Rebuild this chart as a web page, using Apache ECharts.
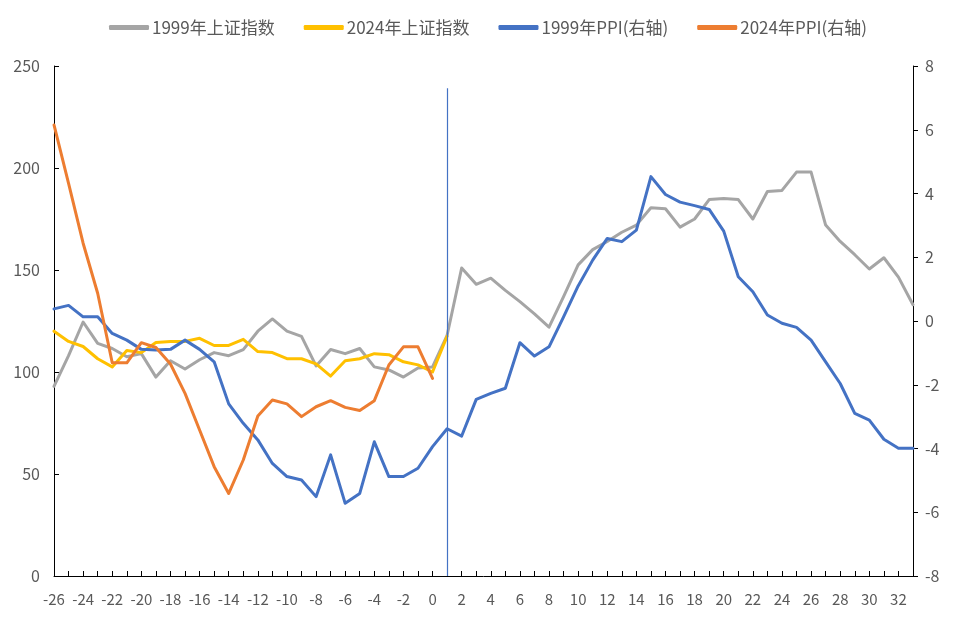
<!DOCTYPE html>
<html>
<head>
<meta charset="utf-8">
<script src="https://cdn.jsdelivr.net/npm/echarts@6/dist/echarts.min.js"></script>
<style>
html,body{margin:0;padding:0;background:#fff;}
#main{width:960px;height:621px;}
</style>
</head>
<body>
<div id="main"></div>
<script>
const categories = ['-26','-25','-24','-23','-22','-21','-20','-19','-18','-17','-16','-15','-14','-13','-12','-11','-10','-9','-8','-7','-6','-5','-4','-3','-2','-1','0','1','2','3','4','5','6','7','8','9','10','11','12','13','14','15','16','17','18','19','20','21','22','23','24','25','26','27','28','29','30','31','32','33'];

const seriesNames = ['1999年上证指数','2024年上证指数','1999年PPI(右轴)','2024年PPI(右轴)'];

const index1999 = [93,108,124.5,114,111.5,107.5,109,97.5,105.5,101.5,106,109.5,108,111,120,126,120,117.5,103,111,109,111.5,102.5,101,97.5,102,102.5,118,151,143,146,140,134.5,128.5,122,137,152.5,160,164,168.5,172,180.5,180,171,175,184.5,185,184.5,175,188.5,189,198,198,172,164,157.5,150.5,156,146.5,133];

const index2024 = [120,115,112.5,106.5,102.5,110.5,109.5,114.5,115,115,116.5,113,113,116,110,109.5,106.5,106.5,104,98,105.5,106.5,109,108.5,105,103.5,100,117.5];

const ppi1999 = [0.38,0.49,0.13,0.13,-0.39,-0.6,-0.89,-0.91,-0.89,-0.6,-0.89,-1.28,-2.6,-3.21,-3.73,-4.47,-4.88,-4.99,-5.51,-4.2,-5.72,-5.41,-3.79,-4.88,-4.88,-4.62,-3.94,-3.38,-3.61,-2.46,-2.27,-2.11,-0.68,-1.1,-0.81,0.13,1.1,1.91,2.59,2.49,2.85,4.53,3.97,3.73,3.62,3.5,2.82,1.39,0.92,0.19,-0.07,-0.2,-0.6,-1.28,-1.96,-2.9,-3.11,-3.71,-3.99,-3.99];

const ppi2024 = [6.15,4.32,2.44,0.87,-1.31,-1.31,-0.68,-0.83,-1.35,-2.27,-3.42,-4.57,-5.41,-4.36,-2.98,-2.48,-2.6,-3.0,-2.69,-2.5,-2.71,-2.81,-2.5,-1.38,-0.81,-0.81,-1.8];

const leftTicks = {min: 0, max: 250, interval: 50};
const rightTicks = {min: -8, max: 8, interval: 2};
const markerCategory = '1';
const markerBottom = -8;
const markerTop = 7.3;

const colors = ['#A5A5A5', '#FFC000', '#4472C4', '#ED7D31'];
const labelColor = '#595959';
const fontFam = '"Noto Sans CJK SC", "Liberation Sans", sans-serif';

const chart = echarts.init(document.getElementById('main'), null, {renderer: 'canvas'});

function lineSeries(i, data, yIdx) {
  return {
    name: seriesNames[i],
    type: 'line',
    data: data,
    yAxisIndex: yIdx,
    symbol: 'none',
    smooth: false,
    lineStyle: {width: 3, color: colors[i], cap: 'round', join: 'round'},
    itemStyle: {color: colors[i]},
    z: 2 + i
  };
}

const s2 = lineSeries(2, ppi1999, 1);
s2.markLine = {
  silent: true,
  symbol: 'none',
  animation: false,
  label: {show: false},
  lineStyle: {color: '#4472C4', width: 1.2, type: 'solid', opacity: 1},
  data: [[{coord: [markerCategory, markerBottom]}, {coord: [markerCategory, markerTop]}]]
};

const option = {
  animation: false,
  backgroundColor: '#ffffff',
  color: colors,
  textStyle: {fontFamily: fontFam},
  legend: {
    top: 14,
    left: 104,
    itemGap: 29,
    itemWidth: 40,
    itemHeight: 5,
    icon: 'roundRect',
    data: seriesNames,
    textStyle: {color: labelColor, fontSize: 17, fontFamily: fontFam, padding: [0, 0, 0, -2]}
  },
  grid: {left: 54, right: 47, top: 66, bottom: 45, containLabel: false},
  xAxis: {
    type: 'category',
    data: categories,
    boundaryGap: false,
    axisLine: {show: true, lineStyle: {color: '#000', width: 1}},
    axisTick: {show: true, inside: true, length: 5, interval: 0, lineStyle: {color: '#000'}},
    axisLabel: {interval: 1, color: labelColor, fontSize: 15, margin: 16, fontFamily: fontFam},
    splitLine: {show: false}
  },
  yAxis: [
    {
      type: 'value',
      min: leftTicks.min, max: leftTicks.max, interval: leftTicks.interval,
      axisLine: {show: true, lineStyle: {color: '#000', width: 1}},
      axisTick: {show: true, inside: true, length: 5, lineStyle: {color: '#000'}},
      axisLabel: {color: labelColor, fontSize: 16, margin: 14, fontFamily: fontFam},
      splitLine: {show: false}
    },
    {
      type: 'value',
      position: 'right',
      min: rightTicks.min, max: rightTicks.max, interval: rightTicks.interval,
      axisLine: {show: true, lineStyle: {color: '#000', width: 1}},
      axisTick: {show: true, inside: false, length: 5, lineStyle: {color: '#000'}},
      axisLabel: {color: labelColor, fontSize: 16, margin: 12, fontFamily: fontFam},
      splitLine: {show: false}
    }
  ],
  series: [
    lineSeries(0, index1999, 0),
    lineSeries(1, index2024, 0),
    s2,
    lineSeries(3, ppi2024, 1)
  ]
};

chart.setOption(option);
</script>
</body>
</html>
